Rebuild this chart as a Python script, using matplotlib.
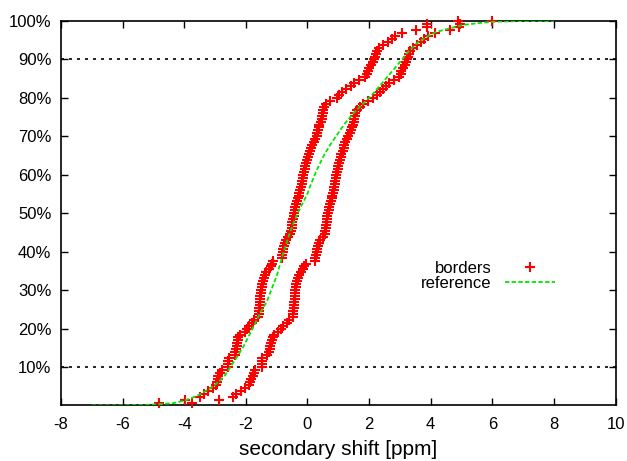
import matplotlib
matplotlib.use("Agg")
import matplotlib.pyplot as plt
import numpy as np

plt.rcParams['font.family'] = ['Liberation Sans', 'DejaVu Sans']

# sorted secondary shifts [ppm], lower and upper border of each residue
left_border = [
    -4.82, -3.98, -3.49, -3.35, -3.22, -3.06, -2.98, -2.93, -2.91, -2.89,
    -2.85, -2.79, -2.58, -2.57, -2.57, -2.55, -2.36, -2.34, -2.32, -2.30,
    -2.28, -2.26, -2.24, -2.20, -2.03, -1.96, -1.90, -1.79, -1.72, -1.62,
    -1.57, -1.56, -1.56, -1.55, -1.55, -1.54, -1.53, -1.51, -1.50, -1.48,
    -1.46, -1.44, -1.41, -1.37, -1.33, -1.25, -1.19, -1.15, -1.12, -0.84,
    -0.82, -0.80, -0.78, -0.76, -0.74, -0.69, -0.62, -0.58, -0.55, -0.51,
    -0.50, -0.49, -0.47, -0.45, -0.43, -0.41, -0.39, -0.37, -0.35, -0.31,
    -0.29, -0.27, -0.24, -0.21, -0.19, -0.17, -0.15, -0.13, -0.11, -0.09,
    -0.07, -0.04, -0.01, 0.01, 0.04, 0.08, 0.11, 0.14, 0.20, 0.26,
    0.30, 0.32, 0.34, 0.36, 0.39, 0.43, 0.46, 0.47, 0.49, 0.51,
    0.54, 0.61, 0.72, 0.95, 1.01, 1.12, 1.26, 1.40, 1.50, 1.66,
    1.88, 1.94, 1.98, 2.01, 2.06, 2.13, 2.16, 2.19, 2.23, 2.26,
    2.31, 2.45, 2.60, 2.73, 2.84, 3.07, 3.52, 3.89, 3.89, 4.88,
]
right_border = [
    -3.74, -2.87, -2.41, -2.33, -2.17, -2.02, -1.89, -1.85, -1.82, -1.77,
    -1.73, -1.69, -1.48, -1.47, -1.47, -1.46, -1.30, -1.25, -1.22, -1.20,
    -1.18, -1.15, -1.13, -1.10, -0.95, -0.86, -0.79, -0.68, -0.60, -0.47,
    -0.46, -0.46, -0.45, -0.44, -0.43, -0.42, -0.41, -0.40, -0.39, -0.38,
    -0.36, -0.34, -0.32, -0.28, -0.20, -0.14, -0.10, -0.05, 0.24, 0.26,
    0.28, 0.30, 0.31, 0.33, 0.36, 0.42, 0.49, 0.56, 0.58, 0.59,
    0.60, 0.62, 0.64, 0.65, 0.67, 0.69, 0.71, 0.72, 0.75, 0.79,
    0.81, 0.83, 0.85, 0.87, 0.88, 0.90, 0.92, 0.94, 0.96, 0.98,
    1.00, 1.03, 1.05, 1.08, 1.10, 1.14, 1.17, 1.20, 1.23, 1.28,
    1.33, 1.38, 1.42, 1.45, 1.48, 1.50, 1.51, 1.53, 1.55, 1.62,
    1.70, 1.80, 1.98, 2.13, 2.25, 2.35, 2.44, 2.54, 2.65, 2.80,
    2.97, 3.03, 3.05, 3.09, 3.16, 3.19, 3.22, 3.25, 3.29, 3.34,
    3.44, 3.56, 3.70, 3.79, 3.92, 4.15, 4.63, 4.92, 4.95, 5.98,
]

# reference distribution (cumulative, %)
ref_x = [-7.0, -6.0, -5.44, -4.9, -4.36, -3.98, -3.71, -3.44, -3.17, -2.9,
         -2.68, -2.52, -2.30, -2.08, -1.87, -1.70, -1.54, -1.32, -1.0, -0.79,
         -0.57, -0.35, -0.19, -0.01, 0.08, 0.30, 0.51, 0.73, 0.95, 1.22,
         1.49, 1.70, 1.92, 2.14, 2.46, 2.79, 3.06, 3.27, 3.55, 3.87,
         4.19, 4.63, 5.06, 5.49, 5.98, 7.0, 8.0]
ref_y = [0.0, 0.05, 0.1, 0.3, 0.6, 1.3, 2.1, 3.1, 4.4, 6.0,
         7.8, 9.8, 12.5, 15.3, 18.6, 21.3, 24.0, 27.0, 33.7, 39.5,
         45.0, 49.5, 52.1, 54.9, 56.9, 61.2, 64.7, 67.7, 70.3, 73.4,
         76.0, 77.7, 79.4, 81.2, 84.2, 87.3, 89.9, 92.0, 94.2, 95.9,
         97.2, 98.1, 99.0, 99.4, 99.8, 100.0, 100.0]

x_ticks = [-8, -6, -4, -2, 0, 2, 4, 6, 8, 10]
y_ticks = [10, 20, 30, 40, 50, 60, 70, 80, 90, 100]
y_labels = [f"{v}%" for v in y_ticks]

n = len(left_border)
pct = np.arange(1, n + 1) / n * 100

fig = plt.figure(figsize=(6.27, 4.61), dpi=100)
ax = fig.add_axes([0.0973, 0.1204, 0.8844, 0.834])

ax.axhline(10, color='black', lw=1.2, linestyle=(0, (1.8, 3.0)), zorder=1)
ax.axhline(90, color='black', lw=1.2, linestyle=(0, (1.8, 3.0)), zorder=1)

ax.plot(left_border, pct, linestyle='none', marker='+', color='#ff0000',
        markersize=6.5, markeredgewidth=1.5, label='borders', zorder=4,
        clip_on=False)
ax.plot(right_border, pct, linestyle='none', marker='+', color='#ff0000',
        markersize=6.5, markeredgewidth=1.5, zorder=4, clip_on=False)
ax.plot(ref_x, ref_y, color='#00e600', lw=1.3, linestyle=(0, (2.4, 1.3)),
        label='reference', zorder=5)

ax.set_xlim(-8, 10)
ax.set_ylim(0, 100)
ax.set_xticks(x_ticks)
ax.set_xticklabels([str(v) for v in x_ticks])
ax.set_yticks(y_ticks)
ax.set_yticklabels(y_labels)
ax.tick_params(direction='in', length=5, width=1, labelsize=12,
               top=True, right=True)
ax.tick_params(axis='x', pad=8)
ax.tick_params(axis='y', pad=7)
for s in ax.spines.values():
    s.set_linewidth(1.2)

ax.set_xlabel("secondary shift [ppm]", fontsize=15, labelpad=6)

leg = ax.legend(loc='center', bbox_to_anchor=(0.77, 0.337), frameon=False,
                markerfirst=False, fontsize=12, handlelength=3.0,
                handletextpad=0.8, labelspacing=0.0, borderpad=0.2)

fig.savefig("out.png", dpi=100)
